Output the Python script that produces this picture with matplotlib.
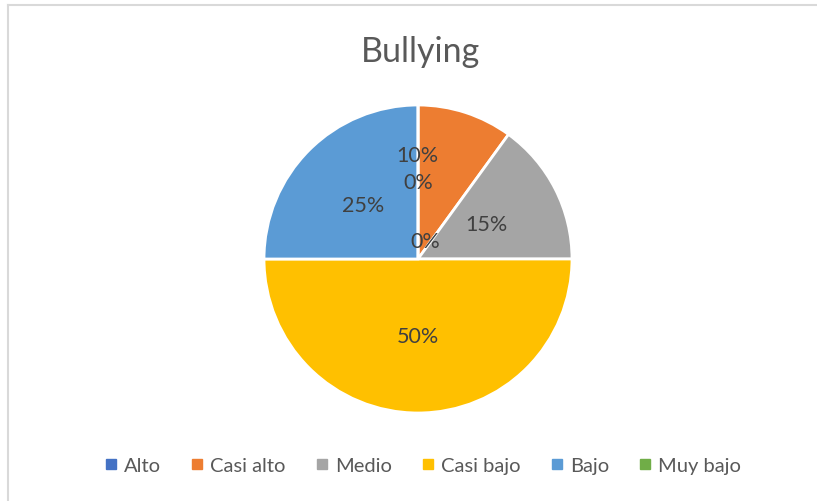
import matplotlib
matplotlib.use("Agg")
import matplotlib.pyplot as plt
import numpy as np

categories = ["Alto", "Casi alto", "Medio", "Casi bajo", "Bajo", "Muy bajo"]
values = [0, 10, 15, 50, 25, 0]
labels = ["0%", "10%", "15%", "50%", "25%", "0%"]
colors = ["#4472C4", "#ED7D31", "#A5A5A5", "#FFC000", "#5B9BD5", "#70AD47"]
title = "Bullying"

W, H = 817, 502
fig = plt.figure(figsize=(W / 100, H / 100), dpi=100)
plt.rcParams['font.family'] = ['Lato', 'DejaVu Sans']

# border (top and left visible)
fig.add_artist(plt.Line2D([8 / W, 1], [1 - 6 / H, 1 - 6 / H], color="#D9D9D9", lw=1.5, transform=fig.transFigure))
fig.add_artist(plt.Line2D([8 / W, 8 / W], [0, 1 - 6 / H], color="#D9D9D9", lw=1.5, transform=fig.transFigure))

cx, cy, r = 418, 260, 154
half = 200
ax = fig.add_axes([(cx - half) / W, (H - cy - half) / H, 2 * half / W, 2 * half / H])
lim = half / r

wedges, _ = ax.pie(values, colors=colors, startangle=90, counterclock=False,
                   radius=1, wedgeprops=dict(edgecolor="white", linewidth=2),
                   frame=True)
ax.set_xlim(-lim, lim)
ax.set_ylim(-lim, lim)
ax.set_aspect("auto")
ax.axis("off")

# label placement overrides (in units of radius) for labels Excel moved
overrides = {0: (0.0, 0.50), 1: (-0.007, 0.673), 5: (0.05, 0.115)}
for i, (w, lab) in enumerate(zip(wedges, labels)):
    if i in overrides:
        x, y = overrides[i]
    else:
        ang = np.deg2rad((w.theta1 + w.theta2) / 2)
        x, y = 0.5 * np.cos(ang), 0.5 * np.sin(ang)
    ax.text(x, y, lab, ha="center", va="center", fontsize=15.5, color="#404040")

fig.text(420 / W, 1 - 52 / H, title, ha="center", va="center", fontsize=24.5, color="#595959")

handles = [plt.Line2D([], [], marker="s", linestyle="none", markersize=7,
                      markerfacecolor=c, markeredgecolor=c) for c in colors]
fig.legend(handles, categories, loc="center", bbox_to_anchor=(423 / W, 1 - 466 / H),
           ncol=6, frameon=False, fontsize=14.5, labelcolor="#595959",
           handlelength=0.6, handletextpad=0.35, columnspacing=1.5)

fig.savefig("out.png", dpi=100, facecolor="white")
